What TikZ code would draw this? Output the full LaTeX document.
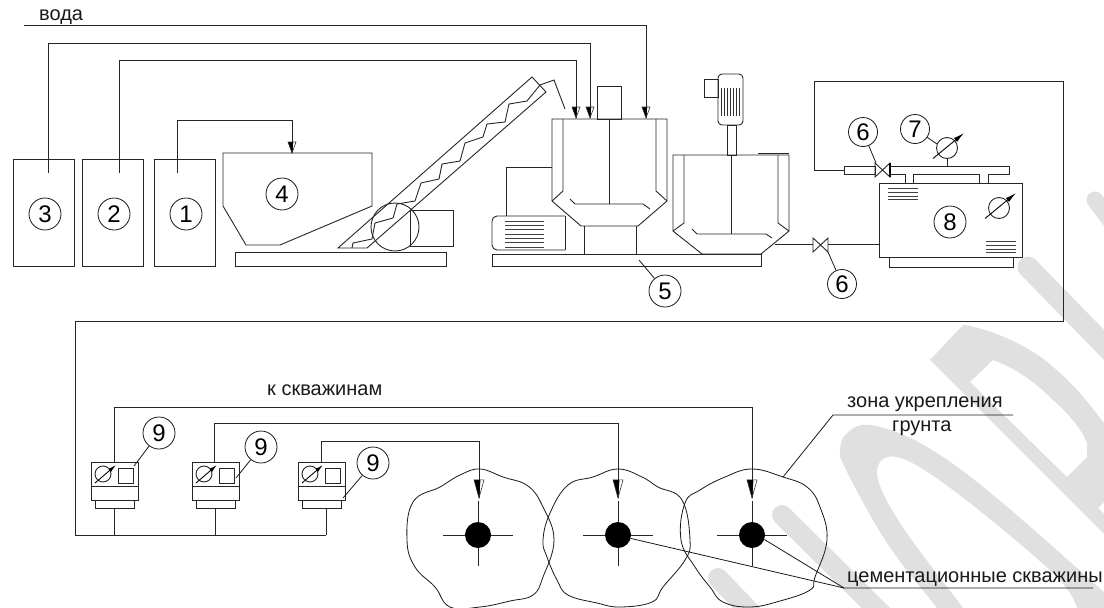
\documentclass[tikz,border=0pt]{standalone}
\usepackage{fontspec}
\setmainfont{Liberation Sans}
\usetikzlibrary{arrows.meta}
\definecolor{wmgray}{HTML}{E0E0E0}
\tikzset{
  ln/.style={line width=0.9pt,draw=black!85,line join=miter},
  num/.style={circle,draw=black!90,line width=0.8pt,fill=none,minimum size=32pt,inner sep=0pt,font=\fontsize{24}{24}\selectfont},
  smallnum/.style={num,minimum size=29pt},
  lbl/.style={inner sep=0pt,anchor=base west,font=\fontsize{20}{20}\selectfont,text=black!90},
  leader/.style={line width=0.8pt,draw=black!90},
  hatch/.style={line width=0.9pt,draw=black!75},
  head/.pic={\fill[black] (-4,-11)--(1.2,-11)--(0,0)--cycle; \draw[line width=0.6pt,black!80] (-4,-11)--(4,-11)--(0,0)--cycle;},
  gaugeL/.pic={\draw[ln] (0,0) circle (10.5);
     \draw[line width=0.9pt,-{Latex[length=11pt,width=5pt]}] (-14,10.5)--(17,-15);},
  gaugeS/.pic={\draw[ln] (0,0) circle (8);
     \draw[line width=0.9pt,-{Latex[length=8pt,width=4pt]}] (-8,9)--(13,-9);},
  unit/.pic={
     \draw[ln] (-11.5,-12)--(35.5,-12)--(35.5,26)--(-11.5,26)--cycle;
     \draw[ln] (-11.5,12)--(35.5,12);
     \draw[ln] (-7.5,26)--(-7.5,34)--(31.5,34)--(31.5,26);
     \draw[ln] (15,-6)rectangle(30,9);
     \pic at (0,0) {gaugeS};}
}
\begin{document}
\begin{tikzpicture}[x=1pt,y=-1pt]
\useasboundingbox (0,0) rectangle (1104,608);
% watermark
\begin{scope}
\clip (0,0) rectangle (1104,608);
\draw[wmgray,line width=17pt,line cap=round] (1095,200)--(1160,285);
\draw[wmgray,line width=21pt,line cap=round] (1028,267)--(1150,392);
\draw[wmgray,line width=20pt,line cap=round] (782,515)--(890,622);
\draw[wmgray,line width=20pt,line cap=round] (718,578)--(760,622);
\fill[wmgray,even odd rule]
  (930,360)--(963,325) .. controls (985,327) and (1030,345) .. (1053,367)
  .. controls (1075,385) and (1090,405) .. (1104,423)--(1104,502)--(1098,508)--(1125,535)--(1125,555)--cycle
  (970,382)--(993,360) .. controls (1015,368) and (1035,382) .. (1053,400)
  .. controls (1070,415) and (1082,430) .. (1087,443)--(1087,457)--(1067,477)--cycle;
\fill[wmgray] plot[smooth,tension=.6] coordinates {(950,625)(937,608)(887,543)(846,470)(840,450)(847,433)(870,425)(920,443)(987,490)(1104,592)(1125,612)}
  -- (1100,630) -- plot[smooth,tension=.6] coordinates {(1077,608)(1053,573)(953,490)(897,457)(877,473)(900,523)(963,608)(975,625)} -- cycle;
\end{scope}

% source boxes
\node[ln,draw,minimum width=61pt,minimum height=107pt,inner sep=0pt] (b3) at (43.5,212.5) {};
\node[ln,draw,minimum width=61pt,minimum height=107pt,inner sep=0pt] (b2) at (112.5,212.5) {};
\node[ln,draw,minimum width=61pt,minimum height=107pt,inner sep=0pt] (b1) at (184.5,212.5) {};
\node[num] (n3) at (45,214) {3};
\node[num] (n2) at (114,214) {2};
\node[num] (n1) at (186,214) {1};
% hopper
\node[ln,draw,minimum width=211pt,minimum height=14pt,inner sep=0pt] (base1) at (340.5,259) {};
\draw[ln] (223,153)--(372,153)--(372,206)--(280,245)--(246,245)--(223,206)--cycle;
\coordinate (hop) at (292,153);
\node[num] (n4) at (282,194) {4};
% conveyor
\draw[ln] (410,245)--(410,210)--(453,210)--(453,246)--(410,246);
\draw[ln] (338,248)--(532,77)--(546,92)--(367,248)--cycle;
\draw[ln] (352,248)--(353,243)--(372,239)--(375,223)--(393,218)--(397,204)--(415,201)--(421,183)--(439,179)--(442,164)--(460,161)--(465,143)--(483,137)--(487,124)--(505,122)--(509,104)--(527,101)--(540,85)--(554,80)--(565,109);
\draw[ln] (395,227) circle (24);
% mixer 1
\draw[ln] (552,119)--(552,201)--(581,226)--(638,226)--(667,201)--(667,119)--cycle;
\draw[ln] (563,119)--(563,191)--(552,201) (656,119)--(656,191)--(667,201);
\coordinate (m1top) at (609,119); \coordinate (m1sh) at (609,204);
\draw[ln] (m1top)--(m1sh);
\draw[ln] (570,199)--(575,204)--(643,204)--(650,209);
\draw[ln] (597,86) rectangle (621,119);
\draw[ln] (584,226)--(584,254) (636,226)--(636,254);
\node[ln,draw,minimum width=269pt,minimum height=12pt,inner sep=0pt] (base2) at (626.5,260) {};
% pump motor
\draw[ln,rounded corners=5pt] (565,216)--(492,216)--(492,250)--(565,250);
\draw[ln] (565,216)--(565,250);
\draw[ln] (506,216)--(506,167)--(552,167);
\foreach \y in {221,225,229,234,238,242,247} \draw[hatch] (505,\y)--(544,\y);
\coordinate (p5) at (639,260);
\node[num] (n5) at (665,291) {5};
\draw[leader] (n5)--(p5);
% mixer 2
\draw[ln] (673,155)--(673,231)--(702,254)--(761,254)--(789,231)--(789,155)--cycle;
\draw[ln] (684,155)--(684,223)--(673,231) (778,155)--(778,223)--(789,231);
\draw[ln] (731,155)--(731,234);
\draw[ln] (692,229)--(697,234)--(766,234)--(772,238);
\draw[ln] (758,153)--(789,153);
\draw[ln] (727,125) rectangle (736,155);
\draw[ln,rounded corners=4pt] (718,74)--(718,125)--(743,125)--(743,74)--cycle;
\foreach \x in {721,724,727,730,733,736,739} \draw[line width=0.8pt,black!80] (\x,88)--(\x,116);
\draw[ln] (704,79) rectangle (718,97);
% lower pipe and valve
\coordinate (vlow) at (821,245);
\coordinate (m2out) at (775,244);
\draw[ln] (m2out)--(813,244);
\draw[ln] (813,238)--(828,252)--(828,238)--(813,252)--cycle;
\node[ln,draw,minimum width=143pt,minimum height=74pt,inner sep=0pt] (b8) at (950.5,220) {};
\draw[ln] (828,244)--(b8.west |- 828,244);
\draw[ln] (889,257)--(889,267)--(1013,267)--(1013,257);
\node[num] (n8) at (950,222) {8};
\pic at (999,208) {gaugeL};
\foreach \y in {188,192,196,199} \draw[hatch] (888,\y)--(918,\y);
\foreach \y in {241,245,249,252} \draw[hatch] (986,\y)--(1016,\y);
\coordinate (p6b) at (828,252);
\node[smallnum] (n6b) at (842,284) {6};
\draw[leader] (n6b)--(p6b);
% manifold and upper valve
\node[ln,draw,minimum width=31pt,minimum height=8pt,inner sep=0pt] (sl) at (859.5,170) {};
\draw[ln] (875,163)--(890,177)--(890,163)--(875,177)--cycle;
\draw[line width=1.4pt] (890,163)--(890,177);
\draw[ln] (890,166)--(1009,166)--(1009,174)--(988,174)--(988,183) (979,183)--(979,174)--(913,174)--(913,183) (905,183)--(905,174)--(890,174);
\pic at (947,148) {gaugeL};
\draw[ln] (947,158.5)--(947,166);
\coordinate (p7) at (937,144);
\node[smallnum] (n7) at (915,129) {7};
\draw[leader] (n7)--(p7);
\coordinate (p6a) at (876,163);
\node[smallnum] (n6a) at (863,132) {6};
\draw[leader] (n6a)--(p6a);
% main frame
\coordinate (f1) at (814,81); \coordinate (f2) at (1063,81); \coordinate (f3) at (1063,321);
\coordinate (f4) at (75,321); \coordinate (f5) at (75,535); \coordinate (f6) at (326,535);
\draw[ln] (sl.west)--(f1 |- sl.west)--(f1)--(f2)--(f3)--(f4)--(f5)--(f6);
% supply lines
\coordinate (s3) at (48,173); \coordinate (h3) at (590,43); \coordinate (t3) at (590,118);
\coordinate (s2) at (119,173); \coordinate (h2) at (576,60); \coordinate (t2) at (576,118);
\coordinate (s1) at (177,173); \coordinate (h1) at (292,120);
\coordinate (w0) at (24,25); \coordinate (tw) at (646,118);
\draw[ln] (s3)|-(t3 |- h3)--(t3);
\draw[ln] (s2)|-(t2 |- h2)--(t2);
\draw[ln] (s1)|-(h1)--(hop);
\draw[ln] (w0)-|(tw);
\pic at (t3) {head}; \pic at (t2) {head}; \pic at (tw) {head}; \pic at (hop) {head};
\node[lbl] (lw) at (39,20) {вода};
% units
\pic at (103,474) {unit};
\pic at (204,474) {unit};
\pic at (310,474) {unit};
\coordinate (u1) at (114,462); \coordinate (u2) at (214,462); \coordinate (u3) at (321,462);
\coordinate (a1) at (752,498); \coordinate (a2) at (618,498); \coordinate (a3) at (479,498);
\draw[ln] (u1)|-(752,407)--(a1);
\draw[ln] (u2)|-(618,423)--(a2);
\draw[ln] (u3)|-(479,441)--(a3);
\pic[xscale=1.25,yscale=1.65] at (a1) {head};
\pic[xscale=1.25,yscale=1.65] at (a2) {head};
\pic[xscale=1.25,yscale=1.65] at (a3) {head};
\draw[ln] (114,508)--(114,535) (215,508)--(215,535) (326,508)--(326,535);
\node[num] (n9a) at (159,433) {9};
\node[num] (n9b) at (261,447) {9};
\node[num] (n9c) at (373,463) {9};
\coordinate (p9a) at (134,466); \coordinate (p9b) at (236,478); \coordinate (p9c) at (343,498);
\draw[leader] (n9a)--(p9a); \draw[leader] (n9b)--(p9b); \draw[leader] (n9c)--(p9c);
\node[lbl] (lk) at (267,395) {к скважинам};
% wells
\draw[line width=0.8pt,black!90] plot[smooth cycle,tension=.7] coordinates {(480,469)(503,477)(528,486)(543,507)(554,540)(543,577)(533,595)(510,601)(480,607)(450,607)(435,587)(415,567)(407,540)(413,502)(440,487)(460,475)};
\draw[line width=0.8pt,black!90] plot[smooth cycle,tension=.7] coordinates {(618,469)(642,477)(658,487)(682,500)(690,540)(685,560)(663,587)(652,602)(620,607)(597,603)(568,595)(557,580)(547,557)(543,540)(550,513)(568,485)(593,477)};
\draw[line width=0.8pt,black!90] plot[smooth cycle,tension=.7] coordinates {(752,469)(783,477)(807,487)(820,507)(827,540)(815,577)(810,590)(780,601)(750,607)(723,602)(710,587)(695,567)(681,540)(685,503)(700,490)(725,477)};
\foreach \x/\nm in {478/d1,618/d2,752/d3}{
  \draw[ln] (\x-35,535)--(\x+35,535) (\x,501)--(\x,566);
  \node[circle,fill=black,minimum size=26pt,inner sep=0pt] (\nm) at (\x,535) {};
}
% leaders
\coordinate (cj) at (844,588); \coordinate (ce) at (1093,588);
\draw[leader] (d2.-15)--(cj)--(ce);
\draw[leader] (d3.-20)--(cj);
\node[lbl] (lc) at (847,582) {цементационные скважины};
\coordinate (z0) at (783,477); \coordinate (z1) at (833,415); \coordinate (z2) at (1013,415);
\draw[leader] (z0)--(z1)--(z2);
\node[lbl] (lz) at (847,407) {зона укрепления};
\node[lbl] (lg) at (892,431) {грунта};
\end{tikzpicture}
\end{document}
